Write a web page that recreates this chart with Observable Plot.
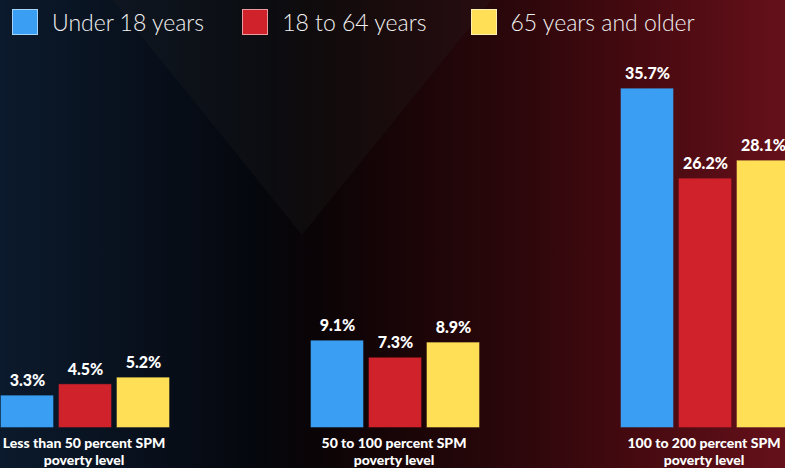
<!DOCTYPE html>
<html>
<head>
<meta charset="utf-8">
<script src="https://cdn.jsdelivr.net/npm/d3@7"></script>
<script src="https://cdn.jsdelivr.net/npm/@observablehq/plot@0.6"></script>
<style>
  html, body { margin: 0; padding: 0; width: 785px; height: 468px; overflow: hidden; }
  body {
    position: relative;
    font-family: Lato, "Open Sans", sans-serif;
    background: linear-gradient(to right, #0b1a2c 0%, #08101c 18%, #05070d 33%, #0a0406 40%, #1a0507 52%, #2c070b 66%, #470a10 82%, #65101a 100%);
  }
  #tri {
    position: absolute; left: 0; top: 0; width: 785px; height: 468px;
    background: rgba(40, 40, 40, 0.2);
    clip-path: polygon(112px 0, 492px 0, 302px 235px);
    pointer-events: none;
  }
  #legend {
    position: relative; height: 45px; display: flex; align-items: center;
    padding-left: 12px; color: #f2f2f2; font-size: 23px; font-weight: 300;
    box-sizing: border-box; padding-bottom: 2px;
  }
  .item { display: flex; align-items: center; gap: 14px; white-space: nowrap; }
  .item:nth-child(2) { margin-left: 38px; }
  .item:nth-child(3) { margin-left: 44px; }
  .sw { width: 26px; height: 26px; box-sizing: border-box; border: 1px solid rgba(255,255,255,0.55); }
  #chart { position: relative; }
  #chart svg { max-width: none !important; }
</style>
</head>
<body>
<div id="tri"></div>
<div id="legend"></div>
<div id="chart"></div>
<script>
const categories = [
  "Less than 50 percent SPM\npoverty level",
  "50 to 100 percent SPM\npoverty level",
  "100 to 200 percent SPM\npoverty level"
];
const ageGroups = ["Under 18 years", "18 to 64 years", "65 years and older"];
const under18 = [3.3, 9.1, 35.7];
const age18to64 = [4.5, 7.3, 26.2];
const age65plus = [5.2, 8.9, 28.1];
const colors = ["#3a9ff2", "#d0222b", "#fedf56"];

const series = [under18, age18to64, age65plus];
const data = [];
categories.forEach((c, i) => {
  ageGroups.forEach((a, j) => data.push({category: c, age: a, value: series[j][i]}));
});

// legend
const legend = document.getElementById("legend");
ageGroups.forEach((a, j) => {
  const item = document.createElement("div");
  item.className = "item";
  const sw = document.createElement("div");
  sw.className = "sw";
  sw.style.background = colors[j];
  const t = document.createElement("span");
  t.textContent = a;
  item.appendChild(sw);
  item.appendChild(t);
  legend.appendChild(item);
});

const chart = Plot.plot({
  width: 800,
  height: 423,
  marginLeft: 0,
  marginRight: 9,
  marginTop: 3,
  marginBottom: 41,
  style: {background: "transparent", fontFamily: "Lato, 'Open Sans', sans-serif", overflow: "visible", maxWidth: "none"},
  fx: {domain: categories, paddingInner: 0.449, paddingOuter: 0, label: null},
  x: {domain: ageGroups, paddingInner: 0.1, paddingOuter: 0, axis: null},
  y: {domain: [0, 40], axis: null},
  color: {domain: ageGroups, range: colors},
  marks: [
    Plot.barY(data, {fx: "category", x: "age", y: "value", fill: "age", stroke: "age", strokeOpacity: 0.6, strokeWidth: 1}),
    Plot.text(data, {fx: "category", x: "age", y: "value", text: d => d.value.toFixed(1) + "%",
      dy: -15, fill: "white", fontWeight: 900, fontSize: 16}),
    Plot.axisFx({anchor: "bottom", tickSize: 0, tickPadding: 8, label: null, fill: "white",
      fontWeight: 900, fontSize: 14, lineHeight: 1.25, dx: -2})
  ]
});
document.getElementById("chart").appendChild(chart);
</script>
</body>
</html>
